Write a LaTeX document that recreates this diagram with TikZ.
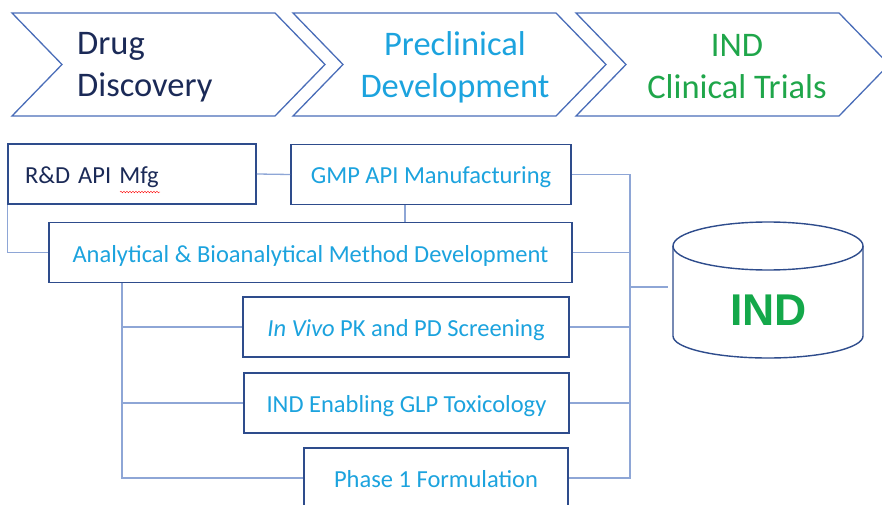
\documentclass[tikz,border=0pt]{standalone}
\usepackage{fontspec}
\setmainfont{Carlito}
\newfontfamily\labelfont{Liberation Sans}
\usepackage{tikz}
\usetikzlibrary{calc}
\usetikzlibrary{decorations.pathmorphing}

\definecolor{chevblue}{HTML}{4A6DB8}
\definecolor{boxblue}{HTML}{2E4C8C}
\definecolor{linkblue}{HTML}{8EA6D6}
\definecolor{navy}{HTML}{1B2A57}
\definecolor{skyblue}{HTML}{1CA3DE}
\definecolor{leafgreen}{HTML}{1FA64A}
\definecolor{indgreen}{HTML}{14A84A}

\begin{document}
\begin{tikzpicture}[x=1pt,y=1pt,
  phase/.style={inner sep=0pt, align=center, font=\fontsize{34.5}{42}\selectfont},
  box/.style={draw=boxblue, line width=1.6pt, fill=white, inner sep=0pt, minimum height=60pt, text height=22pt, text depth=3pt, text=skyblue, font=\fontsize{24.5}{28}\selectfont},
  link/.style={draw=linkblue, line width=1.3pt}]
\useasboundingbox (0,0) rectangle (882,504);
\clip (0,0) rectangle (882,504);

% chevrons along the top
\foreach \s in {0,281,564}{
  \draw[chevblue, line width=1.3pt] (12+\s,491) -- (275+\s,491) -- (325+\s,439.5) -- (275+\s,388) -- (12+\s,388) -- (62+\s,439.5) -- cycle;}
\node[phase, anchor=west, align=left, text=navy] (disc) at (77,437) {Drug\\Discovery};
\node[phase, text=skyblue] (precl) at (455,437) {Preclinical\\Development};
\node[phase, text=leafgreen] (clin) at (737,437) {IND\\Clinical Trials};

% work packages
\node[box, minimum width=248pt, text width=214pt, align=left, text=navy] (rd) at (132,330) {R\&D API Mfg};
\draw[red, decorate, decoration={snake, amplitude=0.8pt, segment length=3pt}] (120,312) -- (160,312);
\node[box, minimum width=280pt] (gmp) at (431,329.5) {GMP API Manufacturing};
\node[box, minimum width=523pt] (ana) at (310.5,251.5) {Analytical \& Bioanalytical Method Development};
\node[box, minimum width=326pt] (vivo) at (406,177) {\textit{In Vivo} PK and PD Screening};
\node[box, minimum width=325pt] (glp) at (406.5,101) {IND Enabling GLP Toxicology};
\node[box, minimum width=264pt] (form) at (436,26) {Phase 1 Formulation};

% IND cylinder
\draw[boxblue, line width=1.4pt] (673,258) -- (673,168) arc[start angle=180, end angle=360, x radius=95, y radius=22] -- (863,258);
\draw[boxblue, line width=1.4pt] (768,258) ellipse[x radius=95, y radius=24];
\node[text=indgreen, font=\labelfont\bfseries\fontsize{44.5}{50}\selectfont] (ind) at (768.5,194) {IND};

% connectors
\coordinate (lbus) at (122,0);
\coordinate (rbus) at (630,0);
\coordinate (drop) at (405,0);
\coordinate (indin) at (668,217);
\draw[link] (rd.east) -- (gmp.west);
\draw[link] (rd.south west) |- (ana.west);
\draw[link] (gmp.south -| drop) -- (ana.north -| drop);
\draw[link] (ana.south -| lbus) |- (form.west);
\foreach \n in {vivo,glp}{\draw[link] (lbus |- \n.west) -- (\n.west);}
\draw[link] (gmp.east) -| (rbus |- form.east) -- (form.east);
\foreach \n in {ana,vivo,glp}{\draw[link] (\n.east) -- (rbus |- \n.east);}
\draw[link] (rbus |- indin) -- (indin);
\end{tikzpicture}
\end{document}
